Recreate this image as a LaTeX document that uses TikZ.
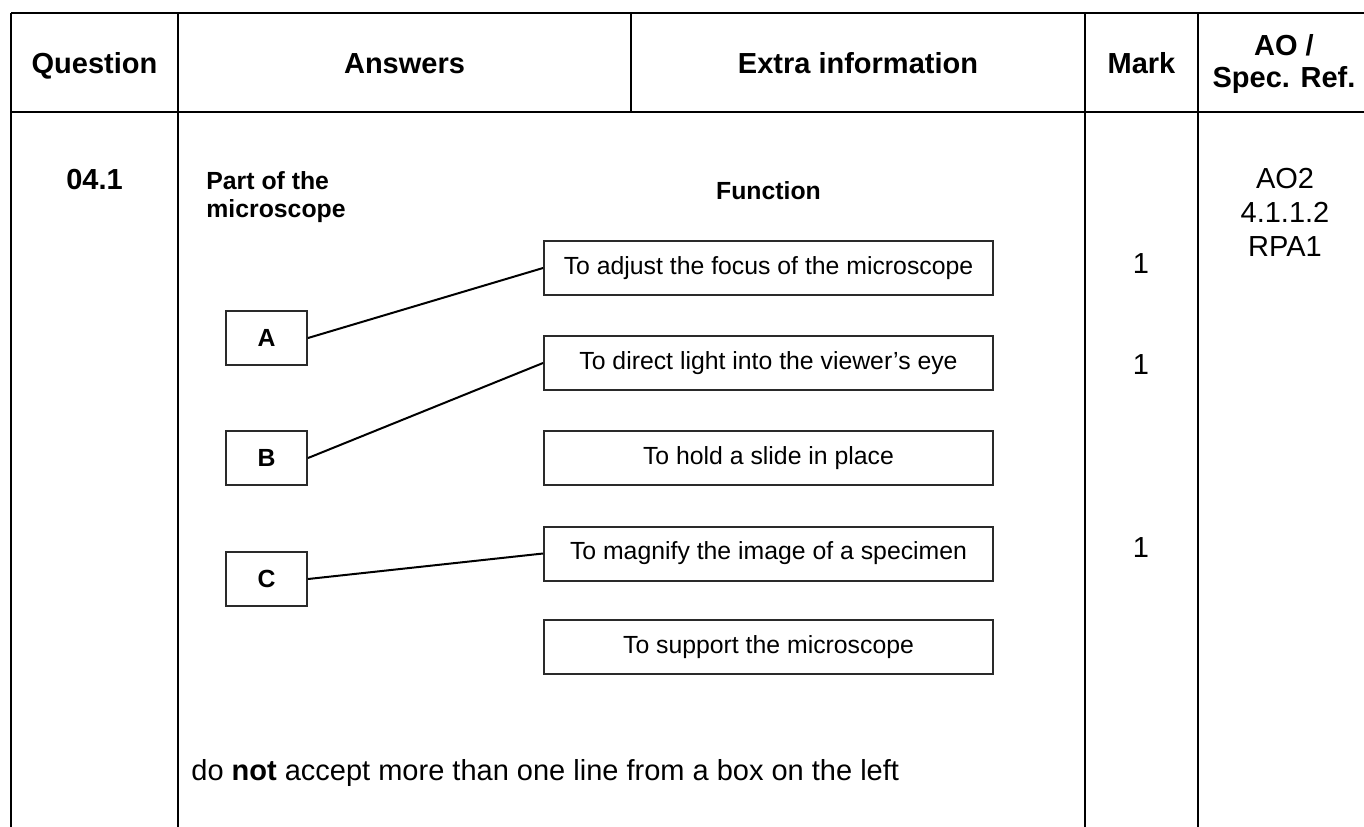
\documentclass[tikz,border=0pt]{standalone}
\usepackage{fontspec}
\setmainfont{Liberation Sans}
\definecolor{boxc}{HTML}{2A2A2A}
\begin{document}
\begin{tikzpicture}[x=0.5pt,y=-0.5pt,
  tbl/.style={line width=1.35pt,black},
  hdr/.style={font=\fontsize{14.5}{17}\selectfont\bfseries,anchor=base,inner sep=0pt},
  bodytxt/.style={font=\fontsize{14.5}{17}\selectfont,anchor=base,inner sep=0pt},
  lbl/.style={font=\fontsize{12.4}{14}\selectfont\bfseries,anchor=base west,inner sep=0pt},
  partbox/.style={draw=boxc,line width=1pt,minimum width=40.5pt,minimum height=27pt,inner sep=0pt,font=\fontsize{12.4}{14}\selectfont\bfseries},
  funcbox/.style={draw=boxc,line width=1pt,minimum width=224.5pt,minimum height=27pt,inner sep=0pt,font=\fontsize{12.4}{14}\selectfont},
  conn/.style={line width=1pt,black}]
\useasboundingbox (0,0) rectangle (1364,826);
\clip (0,0) rectangle (1364,826);
% table rules
\draw[tbl] (11,13) -- (1390,13);
\draw[tbl] (11,112) -- (1390,112);
\draw[tbl] (11,13) -- (11,840);
\draw[tbl] (178,13) -- (178,840);
\draw[tbl] (631,13) -- (631,112);
\draw[tbl] (1085,13) -- (1085,840);
\draw[tbl] (1198,13) -- (1198,840);
% header
\node[hdr] (hq) at (94.5,73) {Question};
\node[hdr] (ha) at (404.5,73) {Answers};
\node[hdr] (he) at (858,73) {Extra information};
\node[hdr] (hm) at (1141.5,73) {Mark};
\node[hdr] (ho1) at (1284,55) {AO /};
\node[hdr] (ho2) at (1284,87) {Spec. Ref.};
% body
\node[hdr] (qn) at (94.5,189) {04.1};
\node[lbl] (part1) at (206,189) {Part of the};
\node[lbl] (part2) at (206,217) {microscope};
\node[lbl,anchor=base] (func) at (768.5,199) {Function};
\node[partbox] (A) at (266.5,338) {A};
\node[partbox] (B) at (266.5,458) {B};
\node[partbox] (C) at (266.5,579) {C};
\node[funcbox] (f1) at (768.5,268) {To adjust the focus of the microscope};
\node[funcbox] (f2) at (768.5,363) {To direct light into the viewer’s eye};
\node[funcbox] (f3) at (768.5,458) {To hold a slide in place};
\node[funcbox] (f4) at (768.5,553.5) {To magnify the image of a specimen};
\node[funcbox] (f5) at (768.5,647) {To support the microscope};
\draw[conn] (A.east) -- (f1.west);
\draw[conn] (B.east) -- (f2.west);
\draw[conn] (C.east) -- (f4.west);
\node[bodytxt] (m1) at (1141,273) {1};
\node[bodytxt] (m2) at (1141,374) {1};
\node[bodytxt] (m3) at (1141,557) {1};
\node[bodytxt] (ao1) at (1285,188) {AO2};
\node[bodytxt] (ao2) at (1285,222) {4.1.1.2};
\node[bodytxt] (ao3) at (1285,256) {RPA1};
\node[bodytxt,anchor=base west] (note) at (191,780) {do \textbf{not} accept more than one line from a box on the left};
\end{tikzpicture}
\end{document}
